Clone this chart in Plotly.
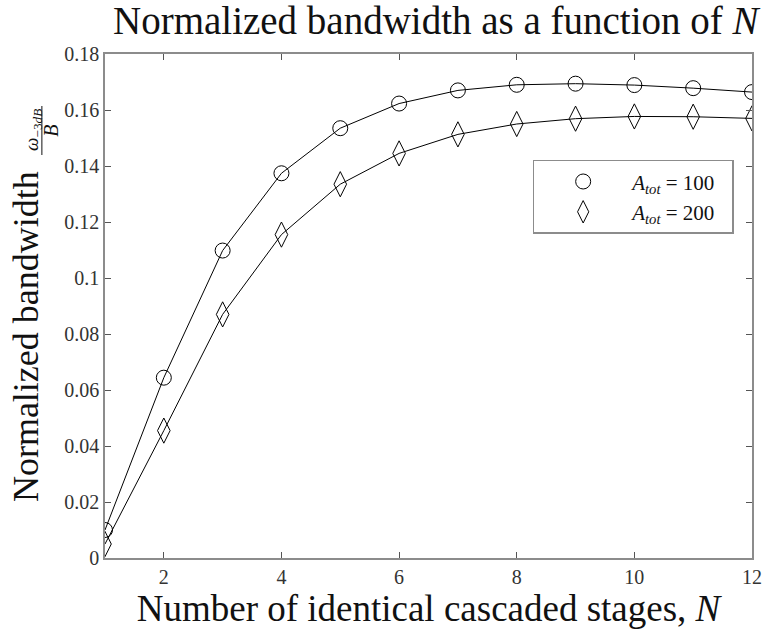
import plotly.graph_objects as go

N = [1, 2, 3, 4, 5, 6, 7, 8, 9, 10, 11, 12]
bw_100 = [0.0100, 0.0644, 0.1098, 0.1374, 0.1535, 0.1623, 0.1670, 0.1690, 0.1694, 0.1689, 0.1678, 0.1664]
bw_200 = [0.0050, 0.0455, 0.0870, 0.1155, 0.1335, 0.1445, 0.1513, 0.1550, 0.1569, 0.1577, 0.1576, 0.1570]
labels = ["<i>A</i><sub><i>tot</i></sub> = 100\u00a0\u00a0", "<i>A</i><sub><i>tot</i></sub> = 200\u00a0\u00a0"]

FONT = "Liberation Serif, Times New Roman, serif"
L, R, T, B = 105, 13, 54, 76
W, H = 774, 634
PW, PH = W - L - R, H - T - B

def px(xp):
    return (xp - L) / PW

def py(yp):
    return (H - B - yp) / PH

fig = go.Figure()
for y, sym, sz, lab in [(bw_100, "circle-open", 15, labels[0]), (bw_200, "diamond-tall-open", 18, labels[1])]:
    fig.add_trace(go.Scatter(x=N, y=y, mode="lines", line=dict(color="black", width=1),
                             showlegend=False, hoverinfo="skip"))
    fig.add_trace(go.Scatter(x=N, y=y, mode="markers", name=lab,
                             marker=dict(symbol=sym, size=sz, color="black",
                                         line=dict(color="black", width=1))))

def axis_common():
    return dict(showline=True, linecolor="#8c8c8c", linewidth=1.5, mirror="ticks",
                ticks="inside", ticklen=6, tickcolor="#555", tickwidth=1,
                showgrid=False, zeroline=False,
                tickfont=dict(family=FONT, size=20, color="#333"))

# y-axis label with a stacked fraction omega_-3dB / B
fig.add_annotation(text="Normalized bandwidth", textangle=-90, xref="paper", yref="paper",
                   x=px(25), y=py(337), xanchor="center", yanchor="middle", showarrow=False,
                   font=dict(family=FONT, size=36, color="#111"))
fig.add_annotation(text="<i>ω</i><sub>−3<i>dB</i></sub>", textangle=-90, xref="paper", yref="paper",
                   x=px(32), y=py(130), xanchor="center", yanchor="middle", showarrow=False,
                   font=dict(family=FONT, size=19, color="#111"))
fig.add_annotation(text="<i>B</i>", textangle=-90, xref="paper", yref="paper",
                   x=px(50), y=py(131), xanchor="center", yanchor="middle", showarrow=False,
                   font=dict(family=FONT, size=20, color="#111"))
fig.add_shape(type="line", xref="paper", yref="paper", x0=px(41), x1=px(41), y0=py(106), y1=py(155),
              line=dict(color="#111", width=1))

fig.update_layout(
    width=W, height=H,
    margin=dict(l=L, r=R, t=T, b=B),
    plot_bgcolor="white", paper_bgcolor="white",
    font=dict(family=FONT, color="#111"),
    title=dict(text="Normalized bandwidth as a function of <i>N</i>", x=0.563, xanchor="center",
               y=0.968, yanchor="middle", font=dict(family=FONT, size=39, color="#111")),
    xaxis=dict(range=[1, 12], tick0=0, dtick=2, **axis_common(),
               title=dict(text="Number of identical cascaded stages, <i>N</i>", standoff=8,
                          font=dict(family=FONT, size=37, color="#111"))),
    yaxis=dict(range=[0, 0.18], dtick=0.02, **axis_common()),
    legend=dict(x=0.661, y=0.79, xanchor="left", yanchor="top",
                bordercolor="#8c8c8c", borderwidth=1.5, bgcolor="white",
                font=dict(family=FONT, size=21, color="#111"), itemwidth=88,
                tracegroupgap=0),
)

fig.write_html("out.html")
